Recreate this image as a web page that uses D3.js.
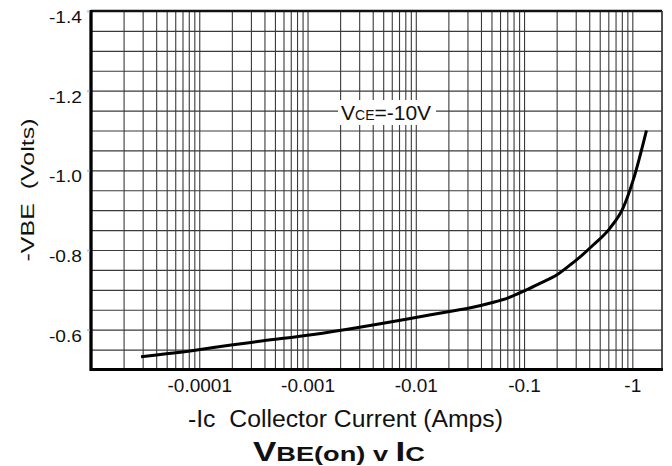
<!DOCTYPE html>
<html>
<head>
<meta charset="utf-8">
<script src="https://cdn.jsdelivr.net/npm/d3@7"></script>
<style>
  html, body { margin: 0; padding: 0; background: #fff; }
  svg { display: block; font-family: "Liberation Sans", Arial, Helvetica, sans-serif; }
  .pre { white-space: pre; }
</style>
</head>
<body>
<svg id="chart" width="672" height="466"></svg>
<script>
// ---- data ----
const collectorCurrent = [-2.9e-5, -9.5e-5, -1.9e-4, -3.9e-4, -1.13e-3, -2.85e-3, -4.7e-3, -0.0109, -0.0199, -0.0305, -0.0501, -0.0713, -0.098, -0.14, -0.2, -0.265, -0.305, -0.435, -0.62, -0.82, -1.02, -1.35];
const vbeOn = [-0.532, -0.549, -0.561, -0.572, -0.588, -0.605, -0.615, -0.6325, -0.645, -0.6536, -0.6677, -0.680, -0.696, -0.7164, -0.7372, -0.762, -0.775, -0.8125, -0.8545, -0.905, -0.976, -1.10];
const xTickValues = [-0.0001, -0.001, -0.01, -0.1, -1];
const xTickLabels = ["-0.0001", "-0.001", "-0.01", "-0.1", "-1"];
const yTickValues = [-1.4, -1.2, -1.0, -0.8, -0.6];
const yTickLabels = ["-1.4", "-1.2", "-1.0", "-0.8", "-0.6"];
const xDomain = [-1e-5, -1.88];
const yDomain = [-1.4, -0.5];

// ---- layout ----
const svg = d3.select("#chart");
const L = 91, R = 662, T = 11, B = 369.5;

const x = d3.scaleLog().domain(xDomain).range([L, R]);
const y = d3.scaleLinear().domain(yDomain).range([T, B]);

// grid values
const xGrid = [];
for (let e = -5; e <= 0; e++) {
  for (let m = 1; m <= 9; m++) {
    const v = -m * Math.pow(10, e);
    if (v >= xDomain[1] && v < xDomain[0] * 0.999) xGrid.push(v);
  }
}
const yGrid = d3.range(0, 19).map(i => +(yDomain[0] + i * 0.05).toFixed(2)).filter(v => v > yDomain[0] && v < yDomain[1]);

const gridColor = "#3a3a3a";

// vertical grid
svg.append("g")
  .attr("transform", `translate(0,${B})`)
  .call(d3.axisBottom(x).tickValues(xGrid).tickSize(-(B - T)).tickFormat(""))
  .call(g => g.select(".domain").remove())
  .call(g => g.selectAll(".tick line").attr("stroke", gridColor).attr("stroke-width", 1.1));

// horizontal grid
svg.append("g")
  .attr("transform", `translate(${L},0)`)
  .call(d3.axisLeft(y).tickValues(yGrid).tickSize(-(R - L)).tickFormat(""))
  .call(g => g.select(".domain").remove())
  .call(g => g.selectAll(".tick line").attr("stroke", gridColor).attr("stroke-width", 1.1));

// legend label with white box
const leg = svg.append("g");
leg.append("rect").attr("x", 338).attr("y", 100).attr("width", 98).attr("height", 25).attr("fill", "#fff");
const legText = leg.append("text").attr("x", 341).attr("y", 119.5).attr("fill", "#111").attr("font-size", 21);
legText.append("tspan").text("V");
legText.append("tspan").attr("font-size", 14).text("CE");
legText.append("tspan").text("=-10V");

// frame
svg.append("line").attr("x1", L).attr("x2", R).attr("y1", T).attr("y2", T).attr("stroke", "#111").attr("stroke-width", 2.3);
svg.append("line").attr("x1", R).attr("x2", R).attr("y1", T).attr("y2", B).attr("stroke", "#333").attr("stroke-width", 1.7);
svg.append("line").attr("x1", L).attr("x2", R + 1).attr("y1", B).attr("y2", B).attr("stroke", "#000").attr("stroke-width", 2.8);
svg.append("line").attr("x1", L).attr("x2", L).attr("y1", T - 1).attr("y2", B + 1.4).attr("stroke", "#000").attr("stroke-width", 3.3);

// y axis labels
const yAxis = svg.append("g")
  .attr("transform", `translate(${L - 1.6},0)`)
  .call(d3.axisLeft(y).tickValues(yTickValues).tickSize(2.5).tickPadding(5)
    .tickFormat((d, i) => yTickLabels[i]))
  .call(g => g.select(".domain").remove())
  .call(g => g.selectAll(".tick line").attr("stroke", "#a9d1f0").attr("stroke-width", 2));
yAxis.selectAll(".tick text")
  .attr("font-size", 16)
  .attr("fill", "#111")
  .attr("font-family", "'Liberation Sans', Arial, sans-serif")
  .attr("dy", 11.5)
  .attr("y", 0)
  .attr("textLength", 33)
  .attr("lengthAdjust", "spacingAndGlyphs");

// x axis labels
const xAxis = svg.append("g")
  .attr("transform", `translate(0,${B})`)
  .call(d3.axisBottom(x).tickValues(xTickValues).tickSize(0).tickPadding(0)
    .tickFormat((d, i) => xTickLabels[i]))
  .call(g => g.select(".domain").remove());
xAxis.selectAll(".tick text")
  .attr("font-size", 19)
  .attr("fill", "#111")
  .attr("font-family", "'Liberation Sans', Arial, sans-serif")
  .attr("dy", 0)
  .attr("y", 22.5);

// curve
const pts = collectorCurrent.map((c, i) => [c, vbeOn[i]]);
svg.append("path")
  .datum(pts)
  .attr("fill", "none")
  .attr("stroke", "#000")
  .attr("stroke-width", 3)
  .attr("stroke-linejoin", "round")
  .attr("stroke-linecap", "butt")
  .attr("d", d3.line().x(d => x(d[0])).y(d => y(d[1])).curve(d3.curveMonotoneX));

// axis titles
svg.append("text")
  .attr("class", "pre")
  .attr("x", 345.5).attr("y", 427)
  .attr("text-anchor", "middle")
  .attr("font-size", 23)
  .attr("fill", "#111")
  .attr("textLength", 315)
  .attr("lengthAdjust", "spacingAndGlyphs")
  .text("-Ic  Collector Current (Amps)");

svg.append("text")
  .attr("class", "pre")
  .attr("transform", `translate(33.5,${(118 + 262) / 2}) rotate(-90)`)
  .attr("text-anchor", "middle")
  .attr("font-size", 18)
  .attr("fill", "#111")
  .attr("textLength", 143)
  .attr("lengthAdjust", "spacingAndGlyphs")
  .text("-VBE  (Volts)");

// chart title
const title = svg.append("text")
  .attr("x", 339).attr("y", 461)
  .attr("text-anchor", "middle")
  .attr("font-weight", "bold")
  .attr("fill", "#111")
  .attr("font-size", 21)
  .attr("textLength", 172)
  .attr("lengthAdjust", "spacingAndGlyphs");
title.append("tspan").attr("font-size", 27).text("V");
title.append("tspan").text("BE(on) v ");
title.append("tspan").attr("font-size", 27).text("I");
title.append("tspan").text("C");
</script>
</body>
</html>
